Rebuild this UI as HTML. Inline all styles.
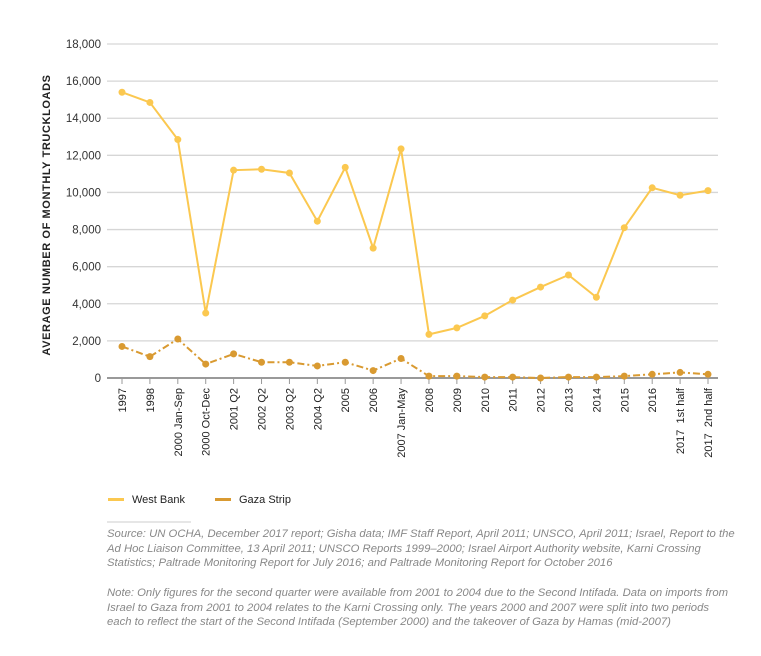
<!DOCTYPE html>
<html><head><meta charset="utf-8"><style>
body{margin:0;background:#fff;width:761px;height:656px;overflow:hidden;font-family:"Liberation Sans",sans-serif}
svg{position:absolute;left:0;top:0}
.note{position:absolute;left:107px;font-size:11.3px;font-style:italic;color:#888;line-height:14.6px;white-space:nowrap}
</style></head><body>
<svg width="761" height="656">
<g id="grid"></g><g id="ylab"></g><g id="xlab"></g><g id="series"></g>
<text transform="translate(50,215) rotate(-90)" text-anchor="middle" font-size="11" font-weight="bold" fill="#222" letter-spacing="0.6">AVERAGE NUMBER OF MONTHLY TRUCKLOADS</text>
<g>
<rect x="108" y="498" width="16" height="3" fill="#fbc850"/>
<text x="132" y="503" font-size="11" fill="#222">West Bank</text>
<rect x="215" y="498" width="16" height="3" fill="#d99a31"/>
<text x="239" y="503" font-size="11" fill="#222">Gaza Strip</text>
</g>
<line x1="107" y1="522" x2="191" y2="522" stroke="#ccc"/>
</svg>
<div class="note" style="top:527px">Source: UN OCHA, December 2017 report; Gisha data; IMF Staff Report, April 2011; UNSCO, April 2011; Israel, Report to the<br>Ad Hoc Liaison Committee, 13 April 2011; UNSCO Reports 1999–2000; Israel Airport Authority website, Karni Crossing<br>Statistics; Paltrade Monitoring Report for July 2016; and Paltrade Monitoring Report for October 2016</div>
<div class="note" style="top:586px">Note: Only figures for the second quarter were available from 2001 to 2004 due to the Second Intifada. Data on imports from<br>Israel to Gaza from 2001 to 2004 relates to the Karni Crossing only. The years 2000 and 2007 were split into two periods<br>each to reflect the start of the Second Intifada (September 2000) and the takeover of Gaza by Hamas (mid-2007)</div>
<script>
const categories=["1997","1998","2000 Jan-Sep","2000 Oct-Dec","2001 Q2","2002 Q2","2003 Q2","2004 Q2","2005","2006","2007 Jan-May","2008","2009","2010","2011","2012","2013","2014","2015","2016","2017  1st half","2017  2nd half"];
const westBank=[15400,14850,12850,3500,11200,11250,11050,8450,11350,7000,12350,2350,2700,3350,4200,4900,5550,4350,8100,10250,9850,10100];
const gaza=[1700,1150,2100,750,1300,850,850,650,850,400,1050,100,100,50,50,0,50,50,100,200,300,200];
const yTicks=[0,2000,4000,6000,8000,10000,12000,14000,16000,18000];
const NS="http://www.w3.org/2000/svg";
function x(i){return 122+i*(708-122)/(categories.length-1);}
function y(v){return 378-v/18000*334;}
function mk(tag,attrs,parent){const e=document.createElementNS(NS,tag);for(const k in attrs)e.setAttribute(k,attrs[k]);document.getElementById(parent).appendChild(e);return e;}
yTicks.forEach(t=>{
 const l=mk('line',{x1:107,x2:718,y1:y(t),y2:y(t),stroke:t===0?'#999':'#d6d6d6','stroke-width':t===0?2:1.3},'grid');
 
 
 const tx=mk('text',{x:101,y:y(t)+4,'text-anchor':'end','font-size':11.5,fill:'#333'},'ylab');
 tx.textContent=t.toLocaleString('en-US');
 
 
});
categories.forEach((c,i)=>{
 const tk=mk('line',{x1:x(i),x2:x(i),y1:378,y2:384,stroke:'#999'},'xlab');
 
 
 const tx=mk('text',{transform:`translate(${x(i)+4},388) rotate(-90)`,'text-anchor':'end','font-size':11,fill:'#222'},'xlab');
 tx.textContent=c;
 tx.style.whiteSpace='pre';
 
 
});
function series(vals,color,dash,name){
 const p=mk('polyline',{points:vals.map((v,i)=>x(i)+','+y(v)).join(' '),fill:'none',stroke:color,'stroke-width':2,'stroke-dasharray':dash},'series');
 
 
 vals.forEach((v,i)=>{
  const c=mk('circle',{cx:x(i),cy:y(v),r:3.5,fill:color},'series');
  
  
 });
}
series(gaza,'#d99a31','7 3 2 3','gaza-strip');
series(westBank,'#fbc850','none','west-bank');
</script>
</body></html>
